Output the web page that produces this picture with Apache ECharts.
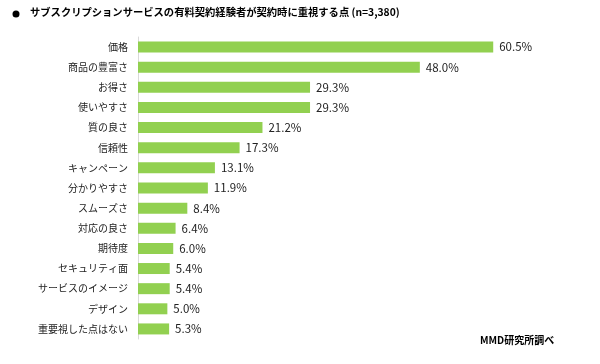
<!DOCTYPE html>
<html><head><meta charset="utf-8">
<script src="https://cdn.jsdelivr.net/npm/echarts@6/dist/echarts.min.js"></script>
<style>html,body{margin:0;padding:0;background:#fff}#c{width:600px;height:364px}</style>
</head><body><div id="c"></div>
<script>
const categories = ["価格","商品の豊富さ","お得さ","使いやすさ","質の良さ","信頼性","キャンペーン","分かりやすさ","スムーズさ","対応の良さ","期待度","セキュリティ面","サービスのイメージ","デザイン","重要視した点はない"];
const values = [60.5,48.0,29.3,29.3,21.2,17.3,13.1,11.9,8.4,6.4,6.0,5.4,5.4,5.0,5.3];
const titleText = "サブスクリプションサービスの有料契約経験者が契約時に重視する点 (n=3,380)";
const sourceText = "MMD研究所調べ";
const FONT = "Noto Sans CJK JP";
const chart = echarts.init(document.getElementById('c'), null, {renderer:'canvas'});
chart.setOption({
  animation:false,
  textStyle:{fontFamily:FONT},
  graphic:[
    {type:'circle', shape:{cx:16, cy:14, r:3.5}, style:{fill:'#000'}},
    {type:'text', left:30, top:7, style:{text:titleText, font:'bold 10.3px "'+FONT+'"', fill:'#000'}},
    {type:'text', left:480, top:335, style:{text:sourceText, font:'bold 10px "'+FONT+'"', fill:'#000'}}
  ],
  grid:{left:138, top:37, width:411, height:302, containLabel:false},
  xAxis:{type:'value', min:0, max:70, show:false},
  yAxis:{type:'category', data:categories, inverse:true,
    axisLine:{show:true, lineStyle:{color:'#d9d9d9', width:1}},
    axisTick:{show:false},
    axisLabel:{margin:10, fontSize:10, color:'#222', fontFamily:FONT}},
  series:[{type:'bar', data:values, barWidth:11, itemStyle:{color:'#92D050'},
    label:{show:true, position:'right', distance:6, fontSize:11.5, color:'#222', fontFamily:FONT,
      formatter:p=>p.value.toFixed(1)+'%'}}]
});
</script></body></html>
